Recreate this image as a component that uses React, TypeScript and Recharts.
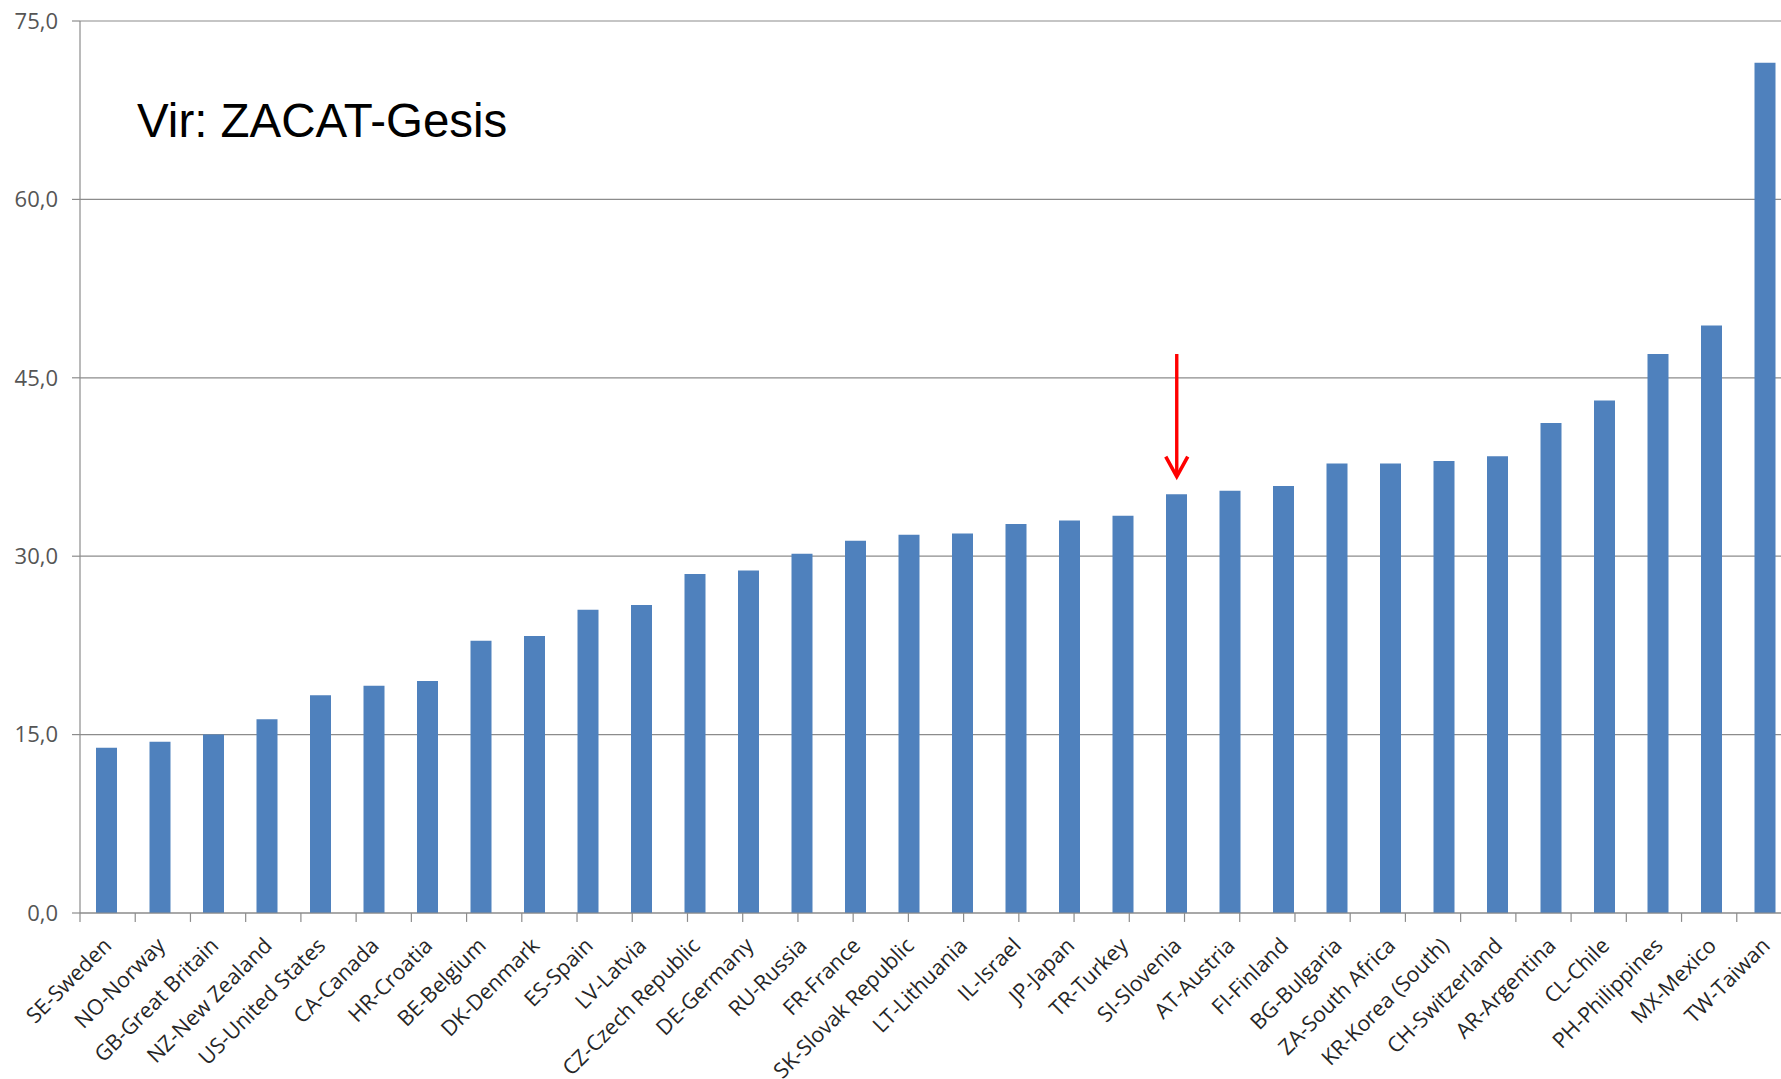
import React from 'react';
import { BarChart, Bar, XAxis, YAxis, CartesianGrid, ReferenceLine } from 'recharts';

const countries = [
  'SE-Sweden', 'NO-Norway', 'GB-Great Britain', 'NZ-New Zealand', 'US-United States', 'CA-Canada',
  'HR-Croatia', 'BE-Belgium', 'DK-Denmark', 'ES-Spain', 'LV-Latvia', 'CZ-Czech Republic',
  'DE-Germany', 'RU-Russia', 'FR-France', 'SK-Slovak Republic', 'LT-Lithuania', 'IL-Israel',
  'JP-Japan', 'TR-Turkey', 'SI-Slovenia', 'AT-Austria', 'FI-Finland', 'BG-Bulgaria',
  'ZA-South Africa', 'KR-Korea (South)', 'CH-Switzerland', 'AR-Argentina', 'CL-Chile',
  'PH-Philippines', 'MX-Mexico', 'TW-Taiwan',
];

const values = [
  13.9, 14.4, 15.0, 16.3, 18.3, 19.1,
  19.5, 22.9, 23.3, 25.5, 25.9, 28.5,
  28.8, 30.2, 31.3, 31.8, 31.9, 32.7,
  33.0, 33.4, 35.2, 35.5, 35.9, 37.8,
  37.8, 38.0, 38.4, 41.2, 43.1,
  47.0, 49.4, 71.5,
];

const yTicks = [0, 15, 30, 45, 60, 75];
const highlighted = 'SI-Slovenia';
const arrowFrom = 47.0;
const arrowTo = 36.7;
const titleText = 'Vir: ZACAT-Gesis';

const data = countries.map((name, i) => ({ name, value: values[i] }));
const boundaries = countries.map((_, i) => i).concat([countries.length]);

const GRAY = '#8c8c8c';
const FONT = '"Open Sans", "DejaVu Sans", sans-serif';

const fmt = (v: number) => v.toFixed(1).replace('.', ',');

const XTick = (props: any) => {
  const { x, y, payload } = props;
  const ax = x + 6;
  const ay = y + 34;
  return (
    <text
      x={ax}
      y={ay}
      transform={`rotate(-45, ${ax}, ${ay})`}
      textAnchor="end"
      fontFamily={FONT}
      fontSize={21.5}
      fill="#262626"
    >
      {payload.value}
    </text>
  );
};

const ArrowShape = (props: any) => {
  const { x1, y1, x2, y2 } = props;
  return (
    <g>
      <line x1={x1} y1={y1} x2={x2} y2={y2 - 1} stroke="#ff0000" strokeWidth={3.4} />
      <polyline
        points={`${x2 - 11},${y2 - 20} ${x2},${y2} ${x2 + 11},${y2 - 20}`}
        fill="none"
        stroke="#ff0000"
        strokeWidth={3.6}
        strokeLinejoin="miter"
      />
    </g>
  );
};

export default function App() {
  return (
    <div
      style={{
        position: 'fixed',
        left: 0,
        top: 0,
        width: 1781,
        height: 1079,
        overflow: 'hidden',
        background: '#ffffff',
      }}
    >
      <BarChart
        width={1800}
        height={1079}
        data={data}
        margin={{ top: 21, right: 8, bottom: 0, left: 2 }}
        barSize={21}
      >
        <CartesianGrid horizontal vertical={false} stroke={GRAY} strokeWidth={1.2} />
        <XAxis
          xAxisId="bnd"
          type="number"
          domain={[0, countries.length]}
          allowDataOverflow
          height={0}
          hide
        />
        <XAxis
          xAxisId="cat"
          dataKey="name"
          type="category"
          interval={0}
          height={166}
          tickLine={false}
          tickSize={0}
          tickMargin={0}
          axisLine={{ stroke: GRAY, strokeWidth: 1.2 }}
          tick={<XTick />}
        />
        <YAxis
          width={78}
          domain={[0, 75]}
          ticks={yTicks}
          tickFormatter={fmt}
          tickSize={8}
          tickMargin={14}
          axisLine={{ stroke: GRAY, strokeWidth: 1.2 }}
          tickLine={{ stroke: GRAY, strokeWidth: 1.2 }}
          tick={{ fontFamily: FONT, fontSize: 22, fill: '#555555' }}
        />
        <Bar
          xAxisId="cat"
          dataKey="value"
          fill="#4f81bd"
          isAnimationActive={false}
        />
        {boundaries.map((b) => (
          <ReferenceLine
            key={`b${b}`}
            xAxisId="bnd"
            segment={[{ x: b, y: 0 }, { x: b, y: -0.75 }]}
            stroke={GRAY}
            strokeWidth={1.2}
            ifOverflow="visible"
          />
        ))}
        <ReferenceLine
          xAxisId="cat"
          segment={[{ x: highlighted, y: arrowFrom }, { x: highlighted, y: arrowTo }]}
          ifOverflow="visible"
          shape={<ArrowShape />}
        />
      </BarChart>
      <div
        style={{
          position: 'absolute',
          left: 137,
          top: 97,
          fontFamily: '"Liberation Sans", Arial, sans-serif',
          fontSize: 47.5,
          lineHeight: '47px',
          color: '#000000',
          whiteSpace: 'nowrap',
        }}
      >
        {titleText}
      </div>
    </div>
  );
}
